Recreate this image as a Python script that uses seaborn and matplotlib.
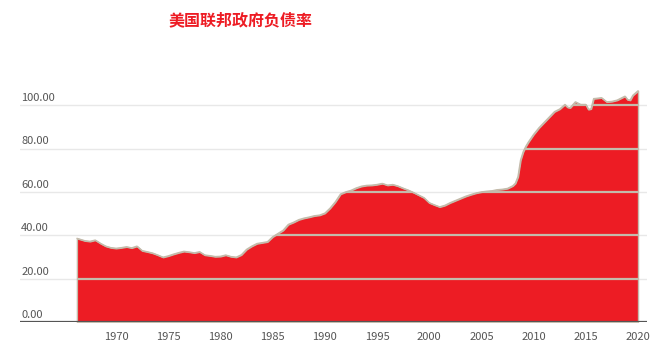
import numpy as np
import pandas as pd
import seaborn as sns
import matplotlib.pyplot as plt
import matplotlib.transforms as mtransforms

sns.set_theme(style="white")
plt.rcParams['font.family'] = ['Noto Sans CJK SC', 'DejaVu Sans']

years = [1966.25, 1967.0, 1967.5, 1968.0, 1968.5, 1969.0, 1969.5, 1970.0, 1970.5, 1971.0,
         1971.5, 1972.0, 1972.5, 1973.0, 1973.5, 1974.0, 1974.5, 1975.0, 1975.5, 1976.0,
         1976.5, 1977.0, 1977.5, 1978.0, 1978.5, 1979.0, 1979.5, 1980.0, 1980.5, 1981.0,
         1981.5, 1982.0, 1982.5, 1983.0, 1983.5, 1984.0, 1984.5, 1985.0, 1985.5, 1986.0,
         1986.5, 1987.0, 1987.5, 1988.0, 1988.5, 1989.0, 1989.5, 1990.0, 1990.5, 1991.0,
         1991.5, 1992.0, 1992.5, 1993.0, 1993.5, 1994.0, 1994.5, 1995.0, 1995.5, 1996.0,
         1996.5, 1997.0, 1997.5, 1998.0, 1998.5, 1999.0, 1999.5, 2000.0, 2000.5, 2001.0,
         2001.5, 2002.0, 2002.5, 2003.0, 2003.5, 2004.0, 2004.5, 2005.0, 2005.5, 2006.0,
         2006.5, 2007.0, 2007.5, 2008.0, 2008.25, 2008.5, 2008.75, 2009.0, 2009.25, 2009.5,
         2010.0, 2010.5, 2011.0, 2011.5, 2012.0, 2012.5, 2013.0, 2013.25, 2013.5, 2014.0,
         2014.5, 2015.0, 2015.25, 2015.5, 2015.75, 2016.0, 2016.5, 2017.0, 2017.5, 2018.0,
         2018.5, 2018.75, 2019.0, 2019.25, 2019.5, 2020.0]
debt_ratio = [38.6, 37.5, 37.2, 37.8, 36.3, 35.0, 34.3, 34.0, 34.3, 34.7,
              34.2, 35.0, 32.9, 32.4, 31.8, 30.9, 29.9, 30.5, 31.3, 32.0,
              32.6, 32.3, 31.9, 32.4, 30.9, 30.6, 30.2, 30.3, 30.9, 30.2,
              29.9, 31.0, 33.5, 35.0, 36.2, 36.6, 37.0, 39.3, 40.8, 42.3,
              45.0, 46.0, 47.2, 47.9, 48.4, 49.0, 49.3, 50.2, 52.5, 55.4,
              59.0, 60.0, 60.7, 61.8, 62.6, 63.0, 63.1, 63.4, 63.9, 63.1,
              63.4, 62.7, 61.7, 60.8, 59.7, 58.5, 57.3, 55.0, 54.0, 53.1,
              53.8, 55.0, 56.0, 57.0, 58.0, 58.8, 59.5, 60.0, 60.3, 60.5,
              61.0, 61.2, 61.6, 62.8, 64.0, 67.0, 74.7, 78.5, 81.0, 83.0,
              86.5, 89.5, 92.0, 94.5, 97.0, 98.2, 100.3, 99.0, 98.8, 101.5,
              100.3, 100.3, 98.0, 98.3, 103.0, 103.1, 103.4, 101.5, 101.7, 102.3,
              103.5, 104.1, 102.5, 102.3, 104.5, 106.6]
y_ticks = [0, 20, 40, 60, 80, 100]
x_ticks = [1970, 1975, 1980, 1985, 1990, 1995, 2000, 2005, 2010, 2015, 2020]

df = pd.DataFrame({"year": years, "ratio": debt_ratio})

red = "#ED1C24"
edge = "#c4bbab"

fig = plt.figure(figsize=(6.67, 3.52), dpi=100)
ax = fig.add_axes([0.030, 0.085, 0.940, 0.678])

# light grid behind the area
for v in y_ticks[1:]:
    ax.axhline(v, color="#e8e8e8", lw=1.0, zorder=0)

poly = ax.fill_between(df["year"], 0, df["ratio"], color=red, edgecolor=edge,
                       linewidth=1.0, zorder=2)
sns.lineplot(data=df, x="year", y="ratio", color=edge, lw=1.0, ax=ax, zorder=3)

# grid lines showing through the red area
lines = ax.hlines(y_ticks[1:], df["year"].min(), df["year"].max(), colors=edge,
                  lw=1.6, zorder=4)
lines.set_clip_path(poly.get_paths()[0], poly.get_transform())

ax.axhline(0, color="#555555", lw=1.6, zorder=5)

ax.set_xlim(1960.8, 2020.86)
ax.set_ylim(0, 110)
ax.set_xticks(x_ticks)
ax.set_xticklabels([str(t) for t in x_ticks], fontsize=8, color="#555555")
ax.tick_params(axis="x", length=0, pad=7)
ax.set_yticks([])
ax.set_xlabel("")
ax.set_ylabel("")
for s in ax.spines.values():
    s.set_visible(False)

trans = mtransforms.blended_transform_factory(ax.transAxes, ax.transData)
for v in y_ticks:
    ax.text(0.002, v + 1.0, f"{v:.2f}", transform=trans, ha="left", va="bottom",
            fontsize=8, color="#555555")

fig.text(0.36, 0.943, "美国联邦政府负债率", ha="center", va="center",
         fontsize=11.5, fontweight="bold", color=red)

fig.savefig("out.png", dpi=100)
